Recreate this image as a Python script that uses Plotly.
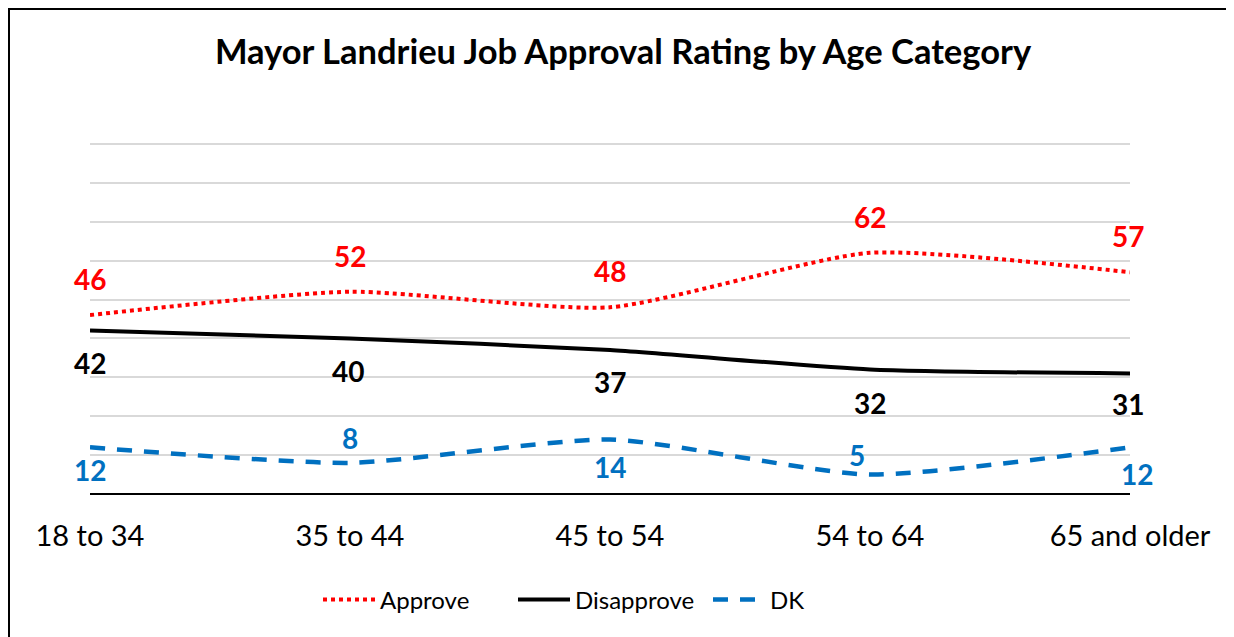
import plotly.graph_objects as go

categories = ["18 to 34", "35 to 44", "45 to 54", "54 to 64", "65 and older"]
approve = [46, 52, 48, 62, 57]
disapprove = [42, 40, 37, 32, 31]
dk = [12, 8, 14, 5, 12]

FONT = "Lato"
OFF = 8  # default page body margin
W, H = 1234 - OFF, 637 - OFF
ML, MR, MT, MB = 90 - OFF, 1234 - 1130, 105 - OFF, 637 - 494

series = [
    dict(name="Approve", y=approve, color="#FF0000", dash="dot", width=4,
         dy=[36, 36, 36, 36, 36], dx=[0, 0, 0, 0, -2]),
    dict(name="Disapprove", y=disapprove, color="#000000", dash="solid", width=4,
         dy=[-32, -33, -32, -33, -31], dx=[0, -2, 0, 0, -2]),
    dict(name="DK", y=dk, color="#0070C0", dash="15px,12px", width=4.5,
         dy=[-23, 25, -27, 20, -27], dx=[0, 0, 0, -13, 7]),
]

fig = go.Figure()
annotations = []
for s in series:
    fig.add_trace(go.Scatter(
        x=categories, y=s["y"], name=s["name"], mode="lines",
        line=dict(color=s["color"], dash=s["dash"], width=s["width"],
                  shape="spline", smoothing=0.6),
        hoverinfo="skip",
    ))
    for i, (c, v) in enumerate(zip(categories, s["y"])):
        annotations.append(dict(
            x=c, y=v, xref="x", yref="y", text=f"<b>{v}</b>", showarrow=False,
            font=dict(family=FONT, size=28, color=s["color"]),
            yshift=s["dy"][i], xshift=s["dx"][i],
        ))

pw = W - ML - MR
ph = H - MT - MB
bx = (1 - ML) / pw          # figure x = 1px
by = (H - MB - 1) / ph      # figure y = 1px from top
shapes = [
    dict(type="line", xref="paper", yref="paper",
         x0=bx, x1=bx, y0=by + 0.01, y1=-(H - MB) / ph - 0.1,
         line=dict(color="#000000", width=2)),
    dict(type="line", xref="paper", yref="paper",
         x0=bx - 0.01, x1=(W - ML + 5) / pw, y0=by, y1=by,
         line=dict(color="#000000", width=2)),
]

fig.update_layout(
    width=W, height=H,
    margin=dict(l=ML, r=MR, t=MT, b=MB, pad=0),
    paper_bgcolor="white", plot_bgcolor="white",
    title=dict(text="<b>Mayor Landrieu Job Approval Rating by Age Category</b>",
               x=(623 - OFF) / W, xanchor="center", y=1 - (52 - OFF) / H, yanchor="middle",
               font=dict(family=FONT, size=34.5, color="#000000")),
    xaxis=dict(type="category", range=[0, 4], showgrid=False, zeroline=False,
               showline=False, ticks="", tickfont=dict(family=FONT, size=29, color="#000000"),
               ticklabelstandoff=22),
    yaxis=dict(range=[0, 100], dtick=10, showgrid=True, gridcolor="#D9D9D9", gridwidth=1.5,
               showticklabels=False, zeroline=True, zerolinecolor="#000000", zerolinewidth=1.5,
               showline=False, ticks=""),
    legend=dict(orientation="h", x=(318 - 90) / pw, xanchor="left", y=-(600 - 494) / ph,
                yanchor="middle", font=dict(family=FONT, size=24, color="#000000"),
                bgcolor="rgba(0,0,0,0)", traceorder="normal", itemwidth=52,
                entrywidth=128, entrywidthmode="pixels"),
    annotations=annotations,
    shapes=shapes,
    showlegend=True,
)

fig.write_html("out.html")
